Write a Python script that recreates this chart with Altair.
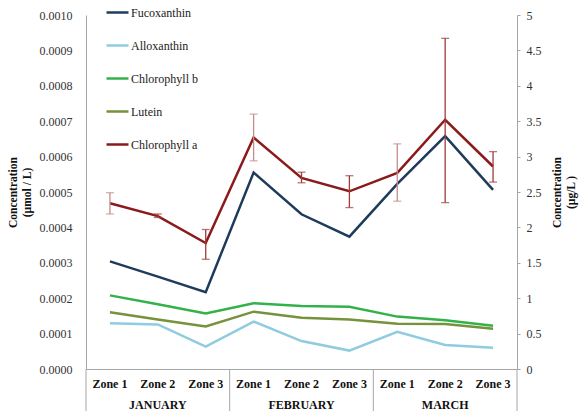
import altair as alt
import pandas as pd

months = ["JANUARY", "FEBRUARY", "MARCH"]
zones = ["Zone 1", "Zone 2", "Zone 3"]

fucoxanthin = [0.000304, 0.000261, 0.000217, 0.000555, 0.000437, 0.000374, 0.000523, 0.000658, 0.000506]
alloxanthin = [0.000129, 0.000126, 0.000063, 0.000134, 0.000079, 0.000052, 0.000105, 0.000068, 0.000060]
chlorophyll_b = [0.000208, 0.000183, 0.000157, 0.000186, 0.000178, 0.000176, 0.000148, 0.000138, 0.000122]
lutein = [0.000160, 0.000140, 0.000120, 0.000162, 0.000145, 0.000140, 0.000128, 0.000127, 0.000114]
chlorophyll_a = [2.34, 2.16, 1.78, 3.27, 2.70, 2.51, 2.77, 3.52, 2.86]
chlorophyll_a_low = [2.19, 2.14, 1.55, 2.94, 2.63, 2.28, 2.37, 2.35, 2.64]
chlorophyll_a_high = [2.49, 2.19, 1.97, 3.60, 2.78, 2.73, 3.18, 4.67, 3.07]

series_names = ["Fucoxanthin", "Alloxanthin", "Chlorophyll b", "Lutein", "Chlorophyll a"]
series_colors = ["#1F3B5C", "#8FCCE0", "#33B24A", "#76923C", "#8B1A1A"]

cats = [m + "|" + z for m in months for z in zones]
zone_of = [z for m in months for z in zones]

rows = []
for name, vals in zip(series_names[:4], [fucoxanthin, alloxanthin, chlorophyll_b, lutein]):
    for c, v in zip(cats, vals):
        rows.append({"cat": c, "series": name, "value": v})
df_umol = pd.DataFrame(rows)

df_chla = pd.DataFrame({
    "cat": cats, "zone": zone_of, "series": "Chlorophyll a",
    "value": chlorophyll_a, "low": chlorophyll_a_low, "high": chlorophyll_a_high,
})

df_month = pd.DataFrame({"cat": [m + "|Zone 2" for m in months], "label": months})
df_div = pd.DataFrame({"cat": [m + "|Zone 1" for m in months]})
df_end = pd.DataFrame({"cat": [cats[-1]]})

W, H = 431, 354
SERIF = "Liberation Serif"
LABELFONT = "Liberation Serif, Times New Roman, serif"

xscale = alt.Scale(domain=cats, paddingInner=0, paddingOuter=0)
yscale_r = alt.Scale(domain=[0, 5], nice=False)
color = alt.Color("series:N", scale=alt.Scale(domain=series_names, range=series_colors),
                  legend=alt.Legend(title=None, orient="none", legendX=19, legendY=-15,
                                    symbolType="stroke", symbolSize=484, symbolStrokeWidth=2.5,
                                    labelFont="serif", labelFontSize=12, labelColor="#222222",
                                    labelOffset=1, rowPadding=14, padding=0))

x_axis = alt.Axis(title=None, labelExpr="split(datum.value, '|')[1]", ticks=False,
                  labelFont=SERIF, labelFontWeight="bold", labelFontSize=12, labelColor="#111111",
                  labelPadding=9, domainColor="#A6A6A6", labelAngle=0)

left = alt.Chart(df_umol).mark_line(strokeWidth=2.5).encode(
    x=alt.X("cat:N", scale=xscale, axis=x_axis, sort=cats),
    y=alt.Y("value:Q", scale=alt.Scale(domain=[0, 0.001], nice=False),
            axis=alt.Axis(title=["Concentration", "(µmol / L)"], format=".4f",
                          values=[i / 10000 for i in range(11)], grid=False, ticks=False,
                          labelOverlap=False,
                          labelFont=LABELFONT, labelFontSize=12, labelColor="#333333", labelPadding=14,
                          domainColor="#A6A6A6", titleFont=SERIF, titleFontSize=11.5,
                          titleFontWeight="bold", titleColor="#111111", titleAngle=270,
                          titlePadding=7, titleLineHeight=14)),
    color=color,
)

right_axis = alt.Axis(orient="right", title=["Concentration", "(µg/L )"],
                      values=[i / 2 for i in range(11)], format="~g", grid=False,
                      tickSize=3, tickColor="#A6A6A6", labelOverlap=False,
                      labelFont=LABELFONT, labelFontSize=12, labelColor="#333333", labelPadding=6,
                      domainColor="#A6A6A6", titleFont=SERIF, titleFontSize=11.5,
                      titleFontWeight="bold", titleColor="#111111", titleAngle=270,
                      titlePadding=7, titleLineHeight=14)

chla_line = alt.Chart(df_chla).mark_line(strokeWidth=2.5).encode(
    x=alt.X("cat:N", scale=xscale, sort=cats),
    y=alt.Y("value:Q", scale=yscale_r, axis=right_axis),
    color=color,
)

err_color = alt.condition(alt.datum.zone == "Zone 1", alt.value("#C58C8C"), alt.value("#A33A3A"))
err_rule = alt.Chart(df_chla).mark_rule(strokeWidth=1.3).encode(
    x=alt.X("cat:N", scale=xscale, sort=cats),
    y=alt.Y("low:Q", scale=yscale_r, axis=right_axis),
    y2="high:Q",
    color=err_color,
)
err_lo = alt.Chart(df_chla).mark_tick(size=8, thickness=1.3).encode(
    x=alt.X("cat:N", scale=xscale, sort=cats),
    y=alt.Y("low:Q", scale=yscale_r, axis=right_axis),
    color=err_color,
)
err_hi = alt.Chart(df_chla).mark_tick(size=8, thickness=1.3).encode(
    x=alt.X("cat:N", scale=xscale, sort=cats),
    y=alt.Y("high:Q", scale=yscale_r, axis=right_axis),
    color=err_color,
)

right = alt.layer(chla_line, err_rule, err_lo, err_hi)

dividers_lo = alt.Chart(df_div).mark_rule(color="#A6A6A6", strokeWidth=1, clip=False).encode(
    x=alt.X("cat:N", scale=xscale, sort=cats, bandPosition=0),
    y=alt.value(H), y2=alt.value(H + 42),
)
end_line = alt.Chart(df_end).mark_rule(color="#A6A6A6", strokeWidth=1, clip=False).encode(
    x=alt.X("cat:N", scale=xscale, sort=cats, bandPosition=1),
    y=alt.value(H), y2=alt.value(H + 42),
)
month_text = alt.Chart(df_month).mark_text(font=SERIF, fontSize=12, fontWeight="bold",
                                           color="#111111", baseline="middle", clip=False).encode(
    x=alt.X("cat:N", scale=xscale, sort=cats),
    y=alt.value(H + 36),
    text="label:N",
)

chart = alt.layer(left, right, dividers_lo, end_line, month_text).resolve_scale(
    y="independent"
).properties(
    width=W, height=H,
    autosize=alt.AutoSizeParams(type="none"),
    padding={"left": 86, "top": 15, "right": 65, "bottom": 42},
).configure(background="white", font=SERIF).configure_view(stroke=None)

chart.save("out.html", embed_options={"renderer": "svg", "actions": False})
